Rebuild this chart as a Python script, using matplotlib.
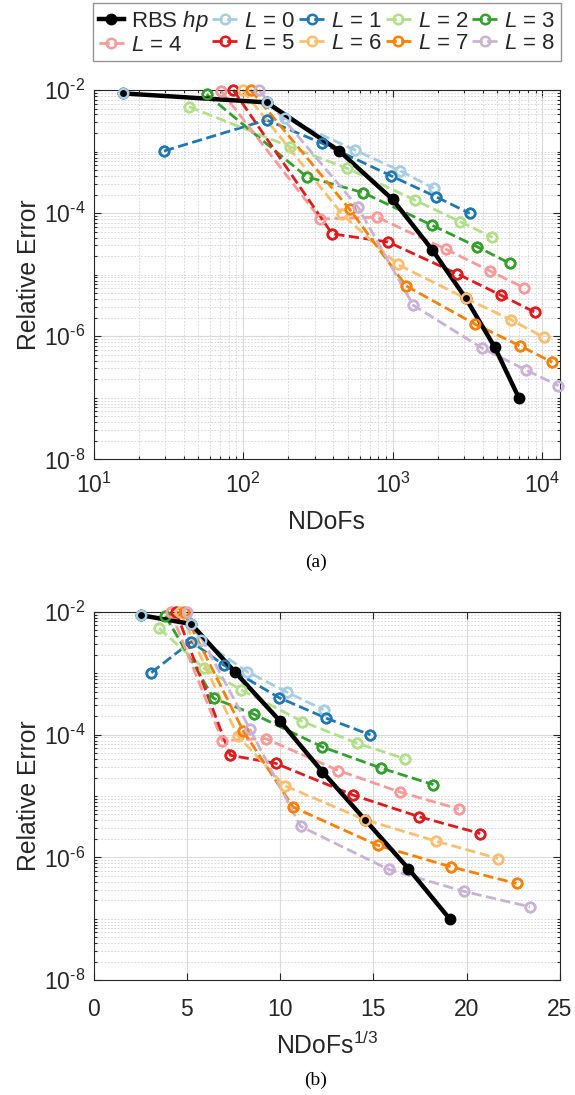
import matplotlib
matplotlib.use('Agg')
import matplotlib.pyplot as plt
import numpy as np
from matplotlib.ticker import (LogLocator, FixedLocator, NullFormatter, MultipleLocator,
                               NullLocator, FuncFormatter)

plt.rcParams['font.family'] = ['Liberation Sans', 'DejaVu Sans']
plt.rcParams['mathtext.fontset'] = 'custom'
plt.rcParams['mathtext.rm'] = 'Liberation Sans'
plt.rcParams['mathtext.it'] = 'Liberation Sans:italic'
plt.rcParams['mathtext.bf'] = 'Liberation Sans:bold'

# RBS hp refinement
rbs_ndofs = [15.8, 143, 437, 995, 1840, 3080, 4800, 6950]
rbs_err = [8.8e-3, 6.3e-3, 1.03e-3, 1.67e-4, 2.5e-5, 4.1e-6, 6.6e-7, 1.0e-7]

# fixed level L runs
levels = [0, 1, 2, 3, 4, 5, 6, 7, 8]
level_ndofs = [
    [15.8, 143, 191, 556, 1112, 1875],
    [29.5, 143, 338, 979, 1936, 3266],
    [43.3, 205, 494, 1400, 2800, 4630],
    [56.9, 265, 632, 1840, 3650, 6040],
    [70.8, 328, 783, 2256, 4450, 7500],
    [85.7, 393, 927, 2700, 5310, 8900],
    [98.8, 460, 1074, 3080, 6190, 10190],
    [112, 515, 1222, 3525, 7050, 11650],
    [127, 586, 1365, 3950, 7820, 12800],
]
level_err = [
    [8.8e-3, 6.3e-3, 3.47e-3, 1.06e-3, 4.9e-4, 2.53e-4],
    [1.02e-3, 3.26e-3, 1.36e-3, 4.0e-4, 1.85e-4, 9.9e-5],
    [5.36e-3, 1.2e-3, 5.35e-4, 1.63e-4, 7.3e-5, 4.05e-5],
    [8.5e-3, 3.9e-4, 2.15e-4, 6.3e-5, 2.85e-5, 1.53e-5],
    [9.8e-3, 8.0e-5, 8.6e-5, 2.6e-5, 1.15e-5, 6.15e-6],
    [1.0e-2, 4.6e-5, 3.4e-5, 1.03e-5, 4.6e-6, 2.45e-6],
    [1.0e-2, 9.5e-5, 1.47e-5, 4.1e-6, 1.84e-6, 9.6e-7],
    [1.0e-2, 1.15e-4, 6.6e-6, 1.58e-6, 7.0e-7, 3.77e-7],
    [1.0e-2, 1.24e-4, 3.2e-6, 6.4e-7, 2.8e-7, 1.57e-7],
]

colors = plt.get_cmap('Paired').colors[:9]
dark = '#262626'

W, H = 575, 1095
fig = plt.figure(figsize=(W / 100, H / 100), dpi=100)
ax1 = fig.add_axes([93.7 / W, 1 - 459.3 / H, (560 - 93.7) / W, (459.3 - 90) / H])
ax2 = fig.add_axes([93.7 / W, 1 - 980.3 / H, (560 - 93.7) / W, (980.3 - 611.7) / H])


def pow_label(v, pos):
    e = int(round(np.log10(v)))
    if e < 0:
        return r'$\mathdefault{10^{\text{-}%d}}$' % (-e)
    return r'$\mathdefault{10^{%d}}$' % e


def draw(ax, xf):
    handles = []
    for i, L in enumerate(levels):
        x = xf(np.array(level_ndofs[i]))
        h, = ax.plot(x, level_err[i], '--o', color=colors[i], lw=2.0, ms=6.8,
                     mew=1.8, mfc='none', zorder=2, clip_on=False,
                     label=r'$L$ = %d' % L)
        ax.plot(x, level_err[i], 'o', color=colors[i], ms=6.8, mew=1.8,
                mfc='none', zorder=4, clip_on=False)
        handles.append(h)
    hr, = ax.plot(xf(np.array(rbs_ndofs)), rbs_err, '-o', color='k', lw=3.2,
                  ms=7.5, zorder=3, clip_on=False, label=r'RBS $hp$')
    return hr, handles


def style(ax):
    ax.set_yscale('log')
    ax.set_ylim(1e-8, 1e-2)
    ax.yaxis.set_major_locator(FixedLocator([1e-8, 1e-6, 1e-4, 1e-2]))
    ax.yaxis.set_major_formatter(FuncFormatter(pow_label))
    ax.yaxis.set_minor_locator(LogLocator(base=10, subs=np.arange(1, 10), numticks=50))
    ax.yaxis.set_minor_formatter(NullFormatter())
    ax.grid(True, which='major', color='#dadada', lw=0.8, ls='-', zorder=0)
    ax.grid(True, which='minor', color='#d2d2d2', lw=0.6, ls=(0, (2, 2)), zorder=0)
    ax.tick_params(which='both', direction='in', top=True, right=True,
                   color=dark, labelcolor=dark, width=0.8)
    ax.tick_params(which='major', length=5, labelsize=16.5, pad=6)
    ax.tick_params(which='minor', length=2.5)
    for s in ax.spines.values():
        s.set_color(dark)
        s.set_linewidth(0.8)
    ax.set_axisbelow(True)
    ax.set_ylabel('Relative Error', fontsize=17.8, color=dark)
    ax.yaxis.set_label_coords(-0.112, 0.5)


# (a) log-log
hr, hl = draw(ax1, lambda n: n)
ax1.set_xscale('log')
ax1.set_xlim(10, 13100)
ax1.xaxis.set_major_locator(FixedLocator([1e1, 1e2, 1e3, 1e4]))
ax1.xaxis.set_major_formatter(FuncFormatter(pow_label))
ax1.xaxis.set_minor_locator(LogLocator(base=10, subs=np.arange(2, 10), numticks=50))
ax1.xaxis.set_minor_formatter(NullFormatter())
style(ax1)
ax1.tick_params(axis='x', which='major', pad=10)
ax1.set_xlabel('NDoFs', fontsize=17.8, color=dark, va='center')
ax1.xaxis.set_label_coords(0.5, (459.3 - 522) / 369.3)

# (b) cube root
draw(ax2, lambda n: n ** (1.0 / 3.0))
ax2.set_xlim(0, 25)
ax2.xaxis.set_major_locator(MultipleLocator(5))
ax2.xaxis.set_minor_locator(NullLocator())
style(ax2)
ax2.tick_params(axis='x', which='major', pad=13)
ax2.set_xlabel(r'NDoFs$^{1/3}$', fontsize=17.8, color=dark, va='center')
ax2.xaxis.set_label_coords(0.5, (980.3 - 1045) / 368.6)

# legend: row 1 = RBS, L0..L3 ; row 2 = L4..L8 (column-major fill)
order = [hr, hl[4], hl[0], hl[5], hl[1], hl[6], hl[2], hl[7], hl[3], hl[8]]
leg = fig.legend(order, [h.get_label() for h in order], ncol=5,
                 loc='upper left', bbox_to_anchor=(93 / W, 1 - 3 / H - 0.01, 468 / W, 0.01),
                 mode='expand', fontsize=16, frameon=True, fancybox=False,
                 handlelength=1.15, handletextpad=0.3, columnspacing=0.3,
                 labelspacing=0.05, borderpad=0.25, borderaxespad=0)
leg.get_frame().set_edgecolor('#7a7a7a')
leg.get_frame().set_linewidth(1.0)
for t in leg.get_texts():
    t.set_color(dark)

fig.text(316 / W, 1 - 562 / H, '(a)', fontsize=14, family='Liberation Serif',
         ha='center', va='center')
fig.text(316 / W, 1 - 1080 / H, '(b)', fontsize=14, family='Liberation Serif',
         ha='center', va='center')

fig.savefig('out.png', dpi=100)
